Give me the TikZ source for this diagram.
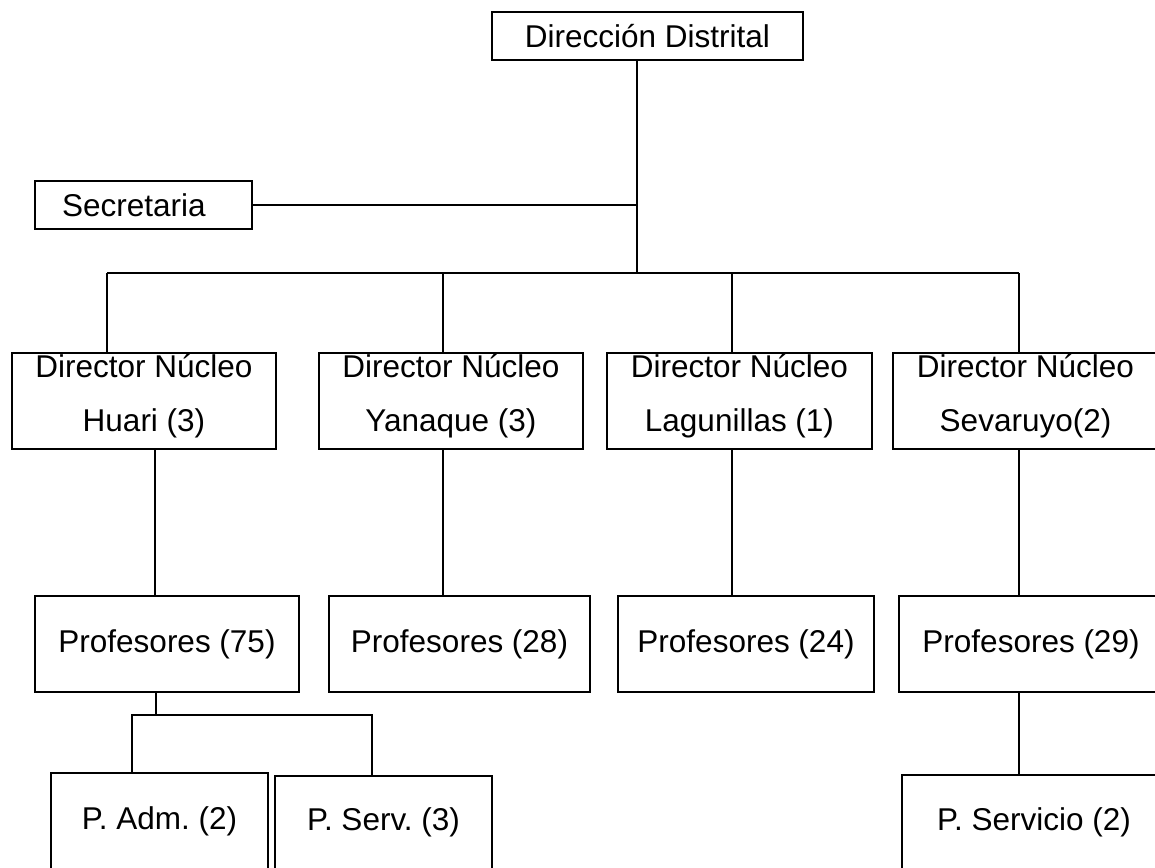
\documentclass[tikz,border=0pt]{standalone}
\usepackage{fontspec}
\setmainfont{Liberation Sans}
\usetikzlibrary{positioning}
\frenchspacing

\newcommand{\dstrut}{\rule[-17pt]{0pt}{17pt}}

\tikzset{
  orgbox/.style={draw, rectangle, line width=2pt, inner sep=0pt, align=center,
    font=\fontsize{31.5}{38}\selectfont},
  headbox/.style={orgbox, minimum width=311pt, minimum height=48pt},
  secbox/.style={orgbox, align=left, text width=163pt, inner xsep=27pt, minimum height=48pt},
  dirbox/.style={orgbox, minimum width=264pt, minimum height=96pt,
    font=\fontsize{31.5}{54}\selectfont},
  profbox/.style={orgbox, minimum width=264pt, minimum height=96pt},
  staffbox/.style={orgbox, minimum width=217pt, minimum height=96pt}
}

\begin{document}
\begin{tikzpicture}[x=1pt,y=1pt,yscale=-1,line width=2pt]
  \useasboundingbox (0,0) rectangle (1155,867);

  % head and secretary
  \node[headbox] (dd) at (647.5,36) {Dirección Distrital};
  \node[secbox] (sec) at (143.5,205) {Secretaria};

  % directors
  \node[dirbox] (d1) at (144,401) {Director Núcleo\\Huari (3)\dstrut};
  \node[dirbox] (d2) at (451,401) {Director Núcleo\\Yanaque (3)\dstrut};
  \node[dirbox, minimum width=265pt] (d3) at (739.5,401) {Director Núcleo\\Lagunillas (1)\dstrut};
  \node[dirbox, minimum width=265pt] (d4) at (1025.5,401) {Director Núcleo\\Sevaruyo(2)\dstrut};

  % teachers
  \node[profbox] (p1) at (167,644) {Profesores (75)};
  \node[profbox, minimum width=261pt] (p2) at (459.5,644) {Profesores (28)};
  \node[profbox, minimum width=256pt] (p3) at (746,644) {Profesores (24)};
  \node[profbox] (p4) at (1031,644) {Profesores (29)};

  % staff
  \node[staffbox] (pa) at (159.5,821) {P. Adm. (2)};
  \node[staffbox, minimum height=93pt] (ps) at (383.5,822.5) {P. Serv. (3)};
  \node[staffbox, minimum width=264pt, minimum height=94pt] (psv) at (1034,822) {P. Servicio (2)};

  % trunk, secretary and bus
  \coordinate (hub) at (637,273);
  \draw (dd.south -| hub) -- (hub);
  \draw (sec.east) -- (sec.east -| hub);
  \foreach \i/\x in {1/107,2/443,3/732,4/1019}
    \coordinate (b\i) at (\x,273);
  \draw (b1) -- (b4);
  \foreach \i in {1,...,4}
    \draw (b\i) -- (b\i |- d\i.north);

  % directors to teachers
  \foreach \i/\x in {1/155,2/443,3/732,4/1019}
    \draw (d\i.south -| \x,0) -- (p\i.north -| \x,0);

  % teachers to staff
  \coordinate (j1) at (156,715);
  \draw (p1.south -| j1) -- (j1);
  \draw (pa.north -| 132,0) |- (j1) -| (ps.north -| 372,0);
  \draw (p4.south -| 1019,0) -- (psv.north -| 1019,0);
\end{tikzpicture}
\end{document}
